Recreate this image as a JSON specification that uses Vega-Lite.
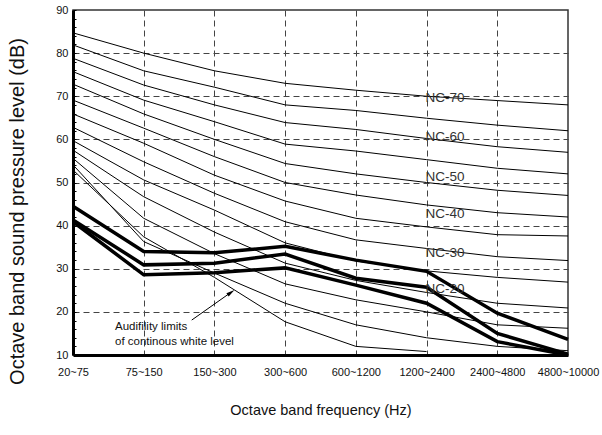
{
  "$schema": "https://vega.github.io/schema/vega-lite/v6.json",
  "width": 495,
  "height": 345,
  "autosize": {"type": "none"},
  "padding": {"left": 73, "top": 10, "right": 34, "bottom": 80},
  "background": "white",
  "config": {
    "font": "Liberation Sans",
    "view": {"stroke": "#333", "strokeWidth": 1.5}
  },
  "datasets": {
    "curves": [
      {"curve": "NC-70", "type": "NC", "i": 0, "dB": 84.7}, {"curve": "NC-70", "type": "NC", "i": 1, "dB": 80.0}, {"curve": "NC-70", "type": "NC", "i": 2, "dB": 75.9}, {"curve": "NC-70", "type": "NC", "i": 3, "dB": 73.0}, {"curve": "NC-70", "type": "NC", "i": 4, "dB": 71.4}, {"curve": "NC-70", "type": "NC", "i": 5, "dB": 70.0}, {"curve": "NC-70", "type": "NC", "i": 6, "dB": 69.0}, {"curve": "NC-70", "type": "NC", "i": 7, "dB": 68.0},
      {"curve": "NC-65", "type": "NC", "i": 0, "dB": 81.9}, {"curve": "NC-65", "type": "NC", "i": 1, "dB": 75.9}, {"curve": "NC-65", "type": "NC", "i": 2, "dB": 72.1}, {"curve": "NC-65", "type": "NC", "i": 3, "dB": 68.0}, {"curve": "NC-65", "type": "NC", "i": 4, "dB": 66.7}, {"curve": "NC-65", "type": "NC", "i": 5, "dB": 64.9}, {"curve": "NC-65", "type": "NC", "i": 6, "dB": 63.3}, {"curve": "NC-65", "type": "NC", "i": 7, "dB": 62.0},
      {"curve": "NC-60", "type": "NC", "i": 0, "dB": 78.8}, {"curve": "NC-60", "type": "NC", "i": 1, "dB": 72.6}, {"curve": "NC-60", "type": "NC", "i": 2, "dB": 68.0}, {"curve": "NC-60", "type": "NC", "i": 3, "dB": 63.9}, {"curve": "NC-60", "type": "NC", "i": 4, "dB": 62.3}, {"curve": "NC-60", "type": "NC", "i": 5, "dB": 60.2}, {"curve": "NC-60", "type": "NC", "i": 6, "dB": 58.3}, {"curve": "NC-60", "type": "NC", "i": 7, "dB": 57.0},
      {"curve": "NC-55", "type": "NC", "i": 0, "dB": 75.7}, {"curve": "NC-55", "type": "NC", "i": 1, "dB": 69.1}, {"curve": "NC-55", "type": "NC", "i": 2, "dB": 64.1}, {"curve": "NC-55", "type": "NC", "i": 3, "dB": 58.9}, {"curve": "NC-55", "type": "NC", "i": 4, "dB": 57.3}, {"curve": "NC-55", "type": "NC", "i": 5, "dB": 55.3}, {"curve": "NC-55", "type": "NC", "i": 6, "dB": 53.3}, {"curve": "NC-55", "type": "NC", "i": 7, "dB": 52.0},
      {"curve": "NC-50", "type": "NC", "i": 0, "dB": 72.8}, {"curve": "NC-50", "type": "NC", "i": 1, "dB": 65.9}, {"curve": "NC-50", "type": "NC", "i": 2, "dB": 60.0}, {"curve": "NC-50", "type": "NC", "i": 3, "dB": 54.4}, {"curve": "NC-50", "type": "NC", "i": 4, "dB": 52.0}, {"curve": "NC-50", "type": "NC", "i": 5, "dB": 50.0}, {"curve": "NC-50", "type": "NC", "i": 6, "dB": 48.2}, {"curve": "NC-50", "type": "NC", "i": 7, "dB": 47.0},
      {"curve": "NC-45", "type": "NC", "i": 0, "dB": 69.1}, {"curve": "NC-45", "type": "NC", "i": 1, "dB": 62.6}, {"curve": "NC-45", "type": "NC", "i": 2, "dB": 56.0}, {"curve": "NC-45", "type": "NC", "i": 3, "dB": 50.0}, {"curve": "NC-45", "type": "NC", "i": 4, "dB": 47.1}, {"curve": "NC-45", "type": "NC", "i": 5, "dB": 44.8}, {"curve": "NC-45", "type": "NC", "i": 6, "dB": 43.0}, {"curve": "NC-45", "type": "NC", "i": 7, "dB": 42.0},
      {"curve": "NC-40", "type": "NC", "i": 0, "dB": 65.9}, {"curve": "NC-40", "type": "NC", "i": 1, "dB": 59.1}, {"curve": "NC-40", "type": "NC", "i": 2, "dB": 51.7}, {"curve": "NC-40", "type": "NC", "i": 3, "dB": 45.7}, {"curve": "NC-40", "type": "NC", "i": 4, "dB": 41.7}, {"curve": "NC-40", "type": "NC", "i": 5, "dB": 39.7}, {"curve": "NC-40", "type": "NC", "i": 6, "dB": 37.9}, {"curve": "NC-40", "type": "NC", "i": 7, "dB": 37.6},
      {"curve": "NC-35", "type": "NC", "i": 0, "dB": 62.8}, {"curve": "NC-35", "type": "NC", "i": 1, "dB": 54.8}, {"curve": "NC-35", "type": "NC", "i": 2, "dB": 47.5}, {"curve": "NC-35", "type": "NC", "i": 3, "dB": 40.9}, {"curve": "NC-35", "type": "NC", "i": 4, "dB": 36.7}, {"curve": "NC-35", "type": "NC", "i": 5, "dB": 34.7}, {"curve": "NC-35", "type": "NC", "i": 6, "dB": 32.8}, {"curve": "NC-35", "type": "NC", "i": 7, "dB": 31.9},
      {"curve": "NC-30", "type": "NC", "i": 0, "dB": 59.7}, {"curve": "NC-30", "type": "NC", "i": 1, "dB": 50.6}, {"curve": "NC-30", "type": "NC", "i": 2, "dB": 43.6}, {"curve": "NC-30", "type": "NC", "i": 3, "dB": 36.0}, {"curve": "NC-30", "type": "NC", "i": 4, "dB": 31.8}, {"curve": "NC-30", "type": "NC", "i": 5, "dB": 29.5}, {"curve": "NC-30", "type": "NC", "i": 6, "dB": 28.0}, {"curve": "NC-30", "type": "NC", "i": 7, "dB": 26.9},
      {"curve": "NC-25", "type": "NC", "i": 0, "dB": 57.5}, {"curve": "NC-25", "type": "NC", "i": 1, "dB": 46.7}, {"curve": "NC-25", "type": "NC", "i": 2, "dB": 38.5}, {"curve": "NC-25", "type": "NC", "i": 3, "dB": 31.3}, {"curve": "NC-25", "type": "NC", "i": 4, "dB": 27.3}, {"curve": "NC-25", "type": "NC", "i": 5, "dB": 24.5}, {"curve": "NC-25", "type": "NC", "i": 6, "dB": 22.0}, {"curve": "NC-25", "type": "NC", "i": 7, "dB": 20.9},
      {"curve": "NC-20", "type": "NC", "i": 0, "dB": 55.6}, {"curve": "NC-20", "type": "NC", "i": 1, "dB": 41.7}, {"curve": "NC-20", "type": "NC", "i": 2, "dB": 33.5}, {"curve": "NC-20", "type": "NC", "i": 3, "dB": 26.5}, {"curve": "NC-20", "type": "NC", "i": 4, "dB": 22.8}, {"curve": "NC-20", "type": "NC", "i": 5, "dB": 20.0}, {"curve": "NC-20", "type": "NC", "i": 6, "dB": 17.0}, {"curve": "NC-20", "type": "NC", "i": 7, "dB": 16.2},
      {"curve": "NC-15", "type": "NC", "i": 0, "dB": 54.1}, {"curve": "NC-15", "type": "NC", "i": 1, "dB": 36.3}, {"curve": "NC-15", "type": "NC", "i": 2, "dB": 29.0}, {"curve": "NC-15", "type": "NC", "i": 3, "dB": 22.0}, {"curve": "NC-15", "type": "NC", "i": 4, "dB": 17.0}, {"curve": "NC-15", "type": "NC", "i": 5, "dB": 14.0}, {"curve": "NC-15", "type": "NC", "i": 6, "dB": 12.0}, {"curve": "NC-15", "type": "NC", "i": 7, "dB": 11.0},
      {"curve": "Audibility", "type": "NC", "i": 0, "dB": 52.9}, {"curve": "Audibility", "type": "NC", "i": 1, "dB": 37.4}, {"curve": "Audibility", "type": "NC", "i": 2, "dB": 28.0}, {"curve": "Audibility", "type": "NC", "i": 3, "dB": 17.7}, {"curve": "Audibility", "type": "NC", "i": 4, "dB": 12.0}, {"curve": "Audibility", "type": "NC", "i": 5, "dB": 10.8},
      {"curve": "A", "type": "Measured", "i": 0, "dB": 44.5}, {"curve": "A", "type": "Measured", "i": 1, "dB": 34.0}, {"curve": "A", "type": "Measured", "i": 2, "dB": 33.7}, {"curve": "A", "type": "Measured", "i": 3, "dB": 35.2}, {"curve": "A", "type": "Measured", "i": 4, "dB": 32.0}, {"curve": "A", "type": "Measured", "i": 5, "dB": 29.4}, {"curve": "A", "type": "Measured", "i": 6, "dB": 19.7}, {"curve": "A", "type": "Measured", "i": 7, "dB": 13.6},
      {"curve": "B", "type": "Measured", "i": 0, "dB": 41.3}, {"curve": "B", "type": "Measured", "i": 1, "dB": 30.9}, {"curve": "B", "type": "Measured", "i": 2, "dB": 31.3}, {"curve": "B", "type": "Measured", "i": 3, "dB": 33.4}, {"curve": "B", "type": "Measured", "i": 4, "dB": 27.8}, {"curve": "B", "type": "Measured", "i": 5, "dB": 25.7}, {"curve": "B", "type": "Measured", "i": 6, "dB": 15.0}, {"curve": "B", "type": "Measured", "i": 7, "dB": 10.2},
      {"curve": "C", "type": "Measured", "i": 0, "dB": 40.9}, {"curve": "C", "type": "Measured", "i": 1, "dB": 28.6}, {"curve": "C", "type": "Measured", "i": 2, "dB": 29.1}, {"curve": "C", "type": "Measured", "i": 3, "dB": 30.2}, {"curve": "C", "type": "Measured", "i": 4, "dB": 26.2}, {"curve": "C", "type": "Measured", "i": 5, "dB": 22.0}, {"curve": "C", "type": "Measured", "i": 6, "dB": 13.1}, {"curve": "C", "type": "Measured", "i": 7, "dB": 10.0}
    ],
    "labels": [
      {"text": "NC-70", "i": 5, "dB": 69.7},
      {"text": "NC-60", "i": 5, "dB": 60.6},
      {"text": "NC-50", "i": 5, "dB": 51.3},
      {"text": "NC-40", "i": 5, "dB": 42.8},
      {"text": "NC-30", "i": 5, "dB": 33.6},
      {"text": "NC-20", "i": 5, "dB": 25.3}
    ],
    "note": [
      {"text": "Audifility limits", "i": 0.594, "dB": 16.6},
      {"text": "of continous white level", "i": 0.594, "dB": 13.1}
    ],
    "arrow": [
      {"i": 1.679, "dB": 18.1},
      {"i": 2.232, "dB": 24.5}
    ],
    "arrowhead": [
      {"i": 2.232, "dB": 24.5}
    ]
  },
  "encoding": {
    "x": {
      "field": "i",
      "type": "quantitative",
      "scale": {"domain": [0, 7], "nice": false, "zero": false},
      "axis": {
        "values": [0, 1, 2, 3, 4, 5, 6, 7],
        "labelExpr": "['20~75','75~150','150~300','300~600','600~1200','1200~2400','2400~4800','4800~10000'][datum.value]",
        "labelFontSize": 11,
        "labelColor": "#111",
        "labelPadding": 11,
        "labelFlush": false,
        "labelOverlap": false,
        "ticks": false,
        "domainColor": "black",
        "domainWidth": 3,
        "grid": true,
        "gridDash": [6, 4],
        "gridColor": "#444",
        "gridWidth": 1,
        "gridOpacity": {"condition": {"test": "datum.value > 0 && datum.value < 7", "value": 1}, "value": 0},
        "title": "Octave band frequency (Hz)",
        "titleFontSize": 14.5,
        "titleFontWeight": "normal",
        "titleColor": "#111",
        "titleX": 247.5,
        "titleY": 55,
        "titleAlign": "center",
        "titleBaseline": "middle"
      }
    },
    "y": {
      "field": "dB",
      "type": "quantitative",
      "scale": {"domain": [10, 90], "nice": false, "zero": false},
      "axis": {
        "values": [10, 12, 14, 16, 18, 20, 22, 24, 26, 28, 30, 32, 34, 36, 38, 40, 42, 44, 46, 48, 50, 52, 54, 56, 58, 60, 62, 64, 66, 68, 70, 72, 74, 76, 78, 80, 82, 84, 86, 88, 90],
        "labelExpr": "datum.value % 10 === 0 ? datum.label : ''",
        "labelFontSize": 11,
        "labelColor": "#111",
        "labelPadding": 8,
        "labelFlush": false,
        "labelOverlap": false,
        "tickSize": -3,
        "tickColor": "black",
        "tickWidth": 1,
        "domainColor": "black",
        "domainWidth": 3,
        "grid": true,
        "gridDash": [6, 4],
        "gridColor": "#444",
        "gridWidth": 1,
        "gridOpacity": {"condition": {"test": "datum.value % 10 === 0 && datum.value > 10 && datum.value < 90", "value": 1}, "value": 0},
        "title": "Octave band sound pressure level (dB)",
        "titleFontSize": 20,
        "titleFontWeight": "normal",
        "titleColor": "#111",
        "titleAngle": -90,
        "titleX": -56,
        "titleY": 201,
        "titleAlign": "center",
        "titleBaseline": "middle"
      }
    }
  },
  "layer": [
    {
      "data": {"name": "curves"},
      "transform": [{"filter": "datum.type === 'NC'"}],
      "mark": {"type": "line", "color": "black", "strokeWidth": 1},
      "encoding": {"detail": {"field": "curve", "type": "nominal"}}
    },
    {
      "data": {"name": "curves"},
      "transform": [{"filter": "datum.type === 'Measured'"}],
      "mark": {"type": "line", "color": "black", "strokeWidth": 3.5, "strokeJoin": "miter"},
      "encoding": {"detail": {"field": "curve", "type": "nominal"}}
    },
    {
      "data": {"name": "labels"},
      "mark": {"type": "text", "align": "left", "baseline": "middle", "dx": -1, "fontSize": 13.5, "color": "#333"},
      "encoding": {"text": {"field": "text", "type": "nominal"}}
    },
    {
      "data": {"name": "note"},
      "mark": {"type": "text", "align": "left", "baseline": "middle", "fontSize": 11.5, "color": "#111"},
      "encoding": {"text": {"field": "text", "type": "nominal"}}
    },
    {
      "data": {"name": "arrow"},
      "mark": {"type": "line", "color": "black", "strokeWidth": 1},
      "encoding": {}
    },
    {
      "data": {"name": "arrowhead"},
      "mark": {"type": "point", "shape": "M0,-1L0.45,0.9L-0.45,0.9Z", "filled": true, "color": "black", "opacity": 1, "size": 80, "angle": 55},
      "encoding": {}
    }
  ]
}
